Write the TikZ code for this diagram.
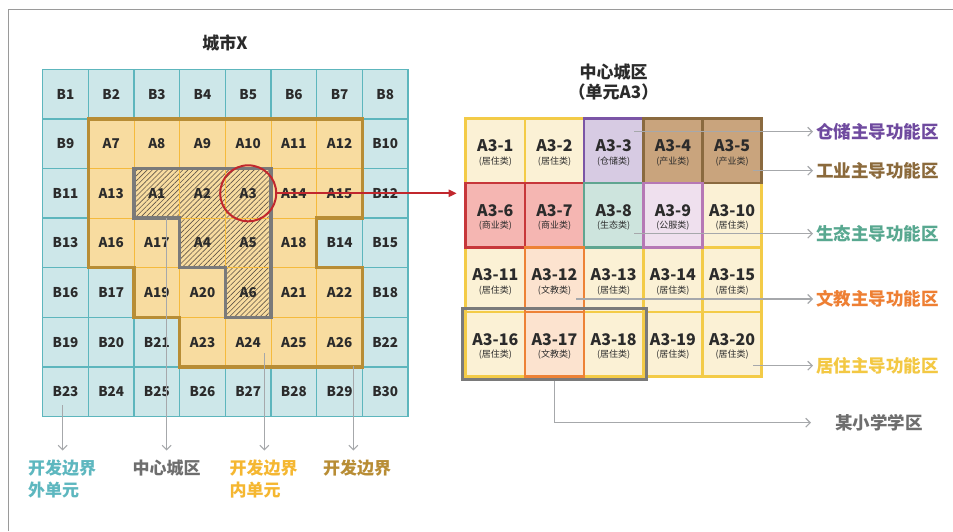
\documentclass[tikz,border=0pt]{standalone}
\usepackage{fontspec}
\setmainfont{Noto Sans CJK SC}
\usetikzlibrary{arrows.meta,patterns.meta,calc,fit}
\definecolor{txt}{HTML}{2B2B2B}
\definecolor{bfill}{HTML}{CDE7E9}
\definecolor{bline}{HTML}{5DB6BD}
\definecolor{afill}{HTML}{F8DCA0}
\definecolor{aline}{HTML}{F5BA3C}
\definecolor{hatch}{HTML}{5F5448}
\definecolor{cgold}{HTML}{B88D35}
\definecolor{cgray}{HTML}{7A7A7A}
\definecolor{cred}{HTML}{C1272D}
\definecolor{agray}{HTML}{A6A8AB}
\definecolor{framegray}{HTML}{9A9A9A}
\definecolor{resfill}{HTML}{FBF1D5}
\definecolor{resline}{HTML}{F3CB47}
\definecolor{warefill}{HTML}{D7CBE3}
\definecolor{wareline}{HTML}{7B55A6}
\definecolor{indfill}{HTML}{C9A47D}
\definecolor{indline}{HTML}{8A6A3F}
\definecolor{comfill}{HTML}{F5B6B2}
\definecolor{comline}{HTML}{C7373A}
\definecolor{ecofill}{HTML}{CDE4DD}
\definecolor{ecoline}{HTML}{5FA590}
\definecolor{pubfill}{HTML}{EFE0EE}
\definecolor{publine}{HTML}{B678B5}
\definecolor{edufill}{HTML}{FCE3CF}
\definecolor{eduline}{HTML}{ED8236}
\definecolor{lpurple}{HTML}{6F4A9F}
\definecolor{lbrown}{HTML}{8B6A3C}
\definecolor{lteal}{HTML}{58A890}
\definecolor{lorange}{HTML}{EE7F33}
\definecolor{lyellow}{HTML}{F3C843}
\definecolor{lgray}{HTML}{6E6E6E}
\definecolor{bteal}{HTML}{5DB7BF}
\definecolor{byellow}{HTML}{F5B731}
\begin{document}
\begin{tikzpicture}[x=1pt,y=-1pt,
  cellbase/.style={rectangle, minimum width=45.67pt, minimum height=49.6pt, inner sep=0pt, outer sep=0pt, font=\fontsize{13.5}{14}\selectfont\bfseries, text=txt},
  cellB/.style={cellbase, fill=bfill, draw=bline, line width=1.4pt},
  cellA/.style={cellbase, fill=afill, draw=aline, line width=1pt},
  cellH/.style={cellA, path picture={\fill[pattern={Lines[angle=45,distance=3.6pt,line width=0.6pt]}, pattern color=hatch] (path picture bounding box.south west) rectangle (path picture bounding box.north east);}},
  rcell/.style={rectangle, minimum width=59.2pt, minimum height=64.5pt, inner sep=0pt, outer sep=0pt, line width=2.6pt},
  res/.style={rcell, fill=resfill, draw=resline},
  ware/.style={rcell, fill=warefill, draw=wareline},
  ind/.style={rcell, fill=indfill, draw=indline},
  com/.style={rcell, fill=comfill, draw=comline},
  eco/.style={rcell, fill=ecofill, draw=ecoline},
  pub/.style={rcell, fill=pubfill, draw=publine},
  edu/.style={rcell, fill=edufill, draw=eduline},
  rmain/.style={font=\fontsize{16}{16}\selectfont\bfseries, text=txt, inner sep=0pt},
  rsub/.style={font=\fontsize{9}{9}\selectfont, text=txt, inner sep=0pt},
  title/.style={font=\fontsize{17}{20}\selectfont\bfseries, text=txt, inner sep=0pt},
  rlab/.style={font=\fontsize{17.5}{20}\selectfont\bfseries, anchor=west, inner sep=0pt},
  blab/.style={font=\fontsize{17}{22}\selectfont\bfseries, anchor=north, align=left, inner sep=0pt},
  garrow/.style={draw=agray, line width=1.1pt, -{Straight Barb[length=4.5pt,width=9pt]}},
]
\useasboundingbox (0,0) rectangle (953,531);
\fill[white] (0,0) rectangle (953,531);
\draw[framegray, line width=1pt] (8,531) -- (8,9.5) -- (953,9.5);

% titles
\node[title] (t1) at (225,43.3) {城市X};
\node[title] (t2) at (613.5,71.7) {中心城区};
\node[title] (t3) at (613.5,92) {（单元A3）};

% left grid
\foreach \rowlist [count=\r from 0] in {
  {B/1/B,B/2/B,B/3/B,B/4/B,B/5/B,B/6/B,B/7/B,B/8/B},
  {B/9/B,A/7/A,A/8/A,A/9/A,A/10/A,A/11/A,A/12/A,B/10/B},
  {B/11/B,A/13/A,A/1/H,A/2/H,A/3/H,A/14/A,A/15/A,B/12/B},
  {B/13/B,A/16/A,A/17/A,A/4/H,A/5/H,A/18/A,B/14/B,B/15/B},
  {B/16/B,B/17/B,A/19/A,A/20/A,A/6/H,A/21/A,A/22/A,B/18/B},
  {B/19/B,B/20/B,B/21/B,A/23/A,A/24/A,A/25/A,A/26/A,B/22/B},
  {B/23/B,B/24/B,B/25/B,B/26/B,B/27/B,B/28/B,B/29/B,B/30/B}} {
  \foreach \t/\k/\s [count=\c from 0] in \rowlist {
    \node[cell\s] (\t\k) at ({42.7+45.67*(\c+0.5)},{69.3+49.6*(\r+0.5)}) {\t\k};
  }
}

% development boundary
\draw[cgold, line width=3.4pt, line join=miter]
  (A7.north west) -- (A12.north east) -- (A15.south east) -- (A18.north east)
  -- (A18.south east) -- (A22.north east) -- (A26.south east) -- (A23.south west)
  -- (A23.north west) -- (A19.south west) -- (A19.north west) -- (A16.south west) -- cycle;

% central area outline
\draw[cgray, line width=3.4pt, line join=miter]
  (A1.north west) -- (A3.north east) -- (A6.south east) -- (A6.south west)
  -- (A6.north west) -- (A4.south west) -- (A4.north west) -- (A1.south west) -- cycle;

% right grid
\foreach \i/\c/\r/\sty/\sub in {
  1/0/0/res/居住类, 2/1/0/res/居住类, 10/4/1/res/居住类, 11/0/2/res/居住类,
  13/2/2/res/居住类, 14/3/2/res/居住类, 15/4/2/res/居住类, 16/0/3/res/居住类,
  18/2/3/res/居住类, 19/3/3/res/居住类, 20/4/3/res/居住类,
  3/2/0/ware/仓储类, 4/3/0/ind/产业类, 5/4/0/ind/产业类, 6/0/1/com/商业类,
  7/1/1/com/商业类, 8/2/1/eco/生态类, 9/3/1/pub/公服类, 12/1/2/edu/文教类,
  17/1/3/edu/文教类} {
  \node[\sty] (r\i) at ({465.7+59.2*(\c+0.5)},{118.3+64.5*(\r+0.5)}) {};
}
\foreach \i/\sub in {1/居住类,2/居住类,3/仓储类,4/产业类,5/产业类,6/商业类,7/商业类,
  8/生态类,9/公服类,10/居住类,11/居住类,12/文教类,13/居住类,14/居住类,15/居住类,
  16/居住类,17/文教类,18/居住类,19/居住类,20/居住类} {
  \node[rmain] (m\i) at ($(r\i.center)+(0,-4.5)$) {A3-\i};
  \node[rsub] (s\i) at ($(r\i.center)+(0,11)$) {(\sub)};
}

% school district
\node[fit=(r16)(r18), inner sep=3pt, draw=cgray, line width=3.2pt, rectangle] (school) {};

% red circle and arrow
\node[circle, draw=cred, line width=2pt, minimum size=56pt, inner sep=0pt] (circ) at (A3) {};
\draw[cred, line width=2pt, -{Triangle[length=8pt,width=7pt]}, shorten >=9pt]
  (circ.east) -- (circ.east -| r6.west);

% right labels
\coordinate (p1) at (634,131.7);
\coordinate (p2) at (753,170.7);
\coordinate (p3) at (634,233.7);
\coordinate (p4) at (576,299);
\coordinate (p5) at (753,365.7);
\node[rlab, text=lpurple] (L1) at (816,131.7) {仓储主导功能区};
\node[rlab, text=lbrown] (L2) at (816,170.7) {工业主导功能区};
\node[rlab, text=lteal] (L3) at (816,233.7) {生态主导功能区};
\node[rlab, text=lorange] (L4) at (816,299) {文教主导功能区};
\node[rlab, text=lyellow] (L5) at (816,365.7) {居住主导功能区};
\node[rlab, text=lgray] (L6) at (835,422.7) {某小学学区};
\foreach \k in {1,...,5} {
  \draw[garrow, shorten >=3pt] (p\k) -- (L\k.west);
}
\coordinate (sb) at (school.south);
\draw[garrow, shorten >=24pt] (sb) -- (sb |- L6.west) -- (L6.west);

% bottom labels
\coordinate (q1) at (62.7,405);
\coordinate (q2) at (166.7,218);
\coordinate (q3) at (264.3,353.3);
\coordinate (q4) at (353.3,366);
\node[blab, text=bteal] (M1) at (62,459.5) {开发边界\\外单元};
\node[blab, text=lgray] (M2) at (166.7,459.5) {中心城区};
\node[blab, text=byellow] (M3) at (263.5,459.5) {开发边界\\内单元};
\node[blab, text=cgold] (M4) at (357,459.5) {开发边界};
\foreach \k in {1,...,4} {
  \draw[garrow, shorten >=9pt] (q\k) -- (q\k |- M\k.north);
}
\end{tikzpicture}
\end{document}
